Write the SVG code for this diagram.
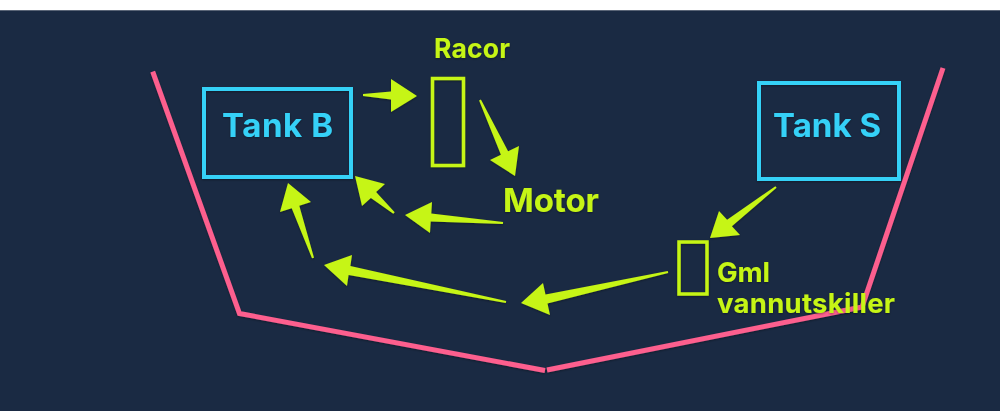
<svg xmlns="http://www.w3.org/2000/svg" width="1000" height="411" viewBox="0 0 1000 411">
  <defs>
    <filter id="sh" x="-10%" y="-10%" width="120%" height="120%">
      <feDropShadow dx="0" dy="1" stdDeviation="1" flood-color="#000" flood-opacity="0.35"/>
    </filter>
  </defs>
  <style>
    .tank{fill:none;stroke:#35d1f7;stroke-width:4}
    .filt{fill:none;stroke:#c6f514;stroke-width:3.5}
    .tl{font-family:Inter,"Liberation Sans",Arial,sans-serif;font-weight:700;fill:#35d1f7}
    .gl{font-family:Inter,"Liberation Sans",Arial,sans-serif;font-weight:700;fill:#c6f514}
    .arr{fill:#c6f514}
    .hull{fill:none;stroke:#fd5f8e;stroke-width:5;stroke-linejoin:miter}
  </style>
  <rect x="0" y="0" width="1000" height="411" fill="#ffffff"/>
  <rect x="0" y="10" width="1000" height="401" fill="#1a2a43"/>
  <line x1="0" y1="10.5" x2="1000" y2="10.5" stroke="#5a6577" stroke-width="1"/>

  <g id="hull" filter="url(#sh)">
    <polyline class="hull" points="152.7,71.7 239.5,313.5 545,370.5"/>
    <polyline class="hull" points="547,370 862,307 943,68"/>
  </g>

  <g id="tankB" filter="url(#sh)">
    <rect class="tank" x="204" y="89" width="147" height="88"/>
    <text class="tl" x="222" y="137" font-size="33" textLength="111">Tank B</text>
  </g>
  <g id="tankS" filter="url(#sh)">
    <rect class="tank" x="759" y="83" width="140" height="96"/>
    <text class="tl" x="773" y="137" font-size="33" textLength="108">Tank S</text>
  </g>
  <g id="racor" filter="url(#sh)">
    <rect class="filt" x="432.5" y="78.5" width="31" height="87"/>
    <text class="gl" x="434" y="58" font-size="26.5" textLength="76">Racor</text>
  </g>
  <g id="motor" filter="url(#sh)">
    <text class="gl" x="503" y="212" font-size="33" textLength="96">Motor</text>
  </g>
  <g id="gml" filter="url(#sh)">
    <rect class="filt" x="679" y="242" width="28" height="52" stroke-width="4"/>
    <text class="gl" x="717" y="282" font-size="27.5" textLength="53">Gml</text>
    <text class="gl" x="717" y="313" font-size="27.5" textLength="178">vannutskiller</text>
  </g>

  <g id="connectors" filter="url(#sh)">
    <polygon class="arr" points="363,94 391,91.5 391,79 417,96 391,112 391,99.5 363,96"/>
    <polygon class="arr" points="480.9,99.6 508.1,151.3 519,146 515,176 490,160 500.9,154.7 479.1,100.4"/>
    <polygon class="arr" points="503.1,222 431.3,213.5 432,202 405,215 430,233 430.7,221.5 502.9,224"/>
    <polygon class="arr" points="394.7,212.2 376.1,192 385,184 355,176 362,206 370.9,198 393.3,213.8"/>
    <polygon class="arr" points="314,257.7 299.3,205.7 311,202 288,183 280,212 291.7,208.3 312,258.3"/>
    <polygon class="arr" points="506.2,301 350.4,266.1 352,255 324,265 347,286 348.6,274.9 505.8,303"/>
    <polygon class="arr" points="667.8,271 545.5,294.6 543,283 521,303 550,315 547.5,303.4 668.2,273"/>
    <polygon class="arr" points="775.4,186.2 727.1,219.8 719,211 710,238 740,235 731.9,226.2 776.6,187.8"/>
  </g>
</svg>
